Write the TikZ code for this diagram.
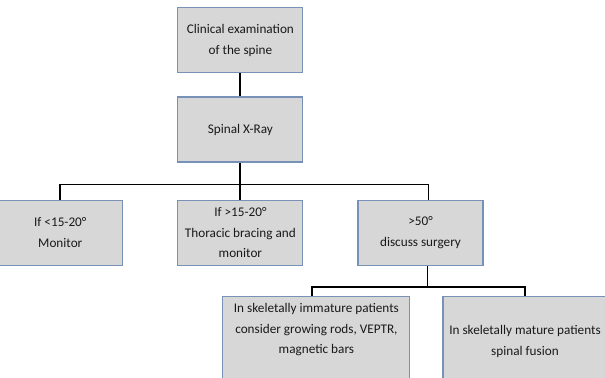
\documentclass[tikz,border=0pt]{standalone}
\usepackage{fontspec}
\setmainfont{Carlito}
\usepackage{tikz}
\usetikzlibrary{positioning}
\definecolor{boxfill}{RGB}{215,215,215}
\definecolor{boxline}{RGB}{120,145,182}

\begin{document}
\begin{tikzpicture}[
    node distance=0.575cm and 1.35cm,
    mybox/.style={rectangle, draw=boxline, line width=0.8pt, fill=boxfill, align=center,
        minimum width=3.125cm, minimum height=1.625cm, inner sep=2pt,
        font=\fontsize{9.4}{14.5}\selectfont, text=black!90},
    link/.style={black, line width=1.3pt}
]
\useasboundingbox (0,0) rectangle (15.125,-9.45);
\clip (0,0) rectangle (15.125,-9.45);

\node[mybox] (clin) at (6.01,-1.01) {Clinical examination\\of the spine};
\node[mybox] (xray) [below=of clin] {Spinal X-Ray};
\node[mybox] (brace) [below=0.925cm of xray] {If >15-20°\\Thoracic bracing and\\monitor};
\node[mybox] (mon) [left=of brace] {If <15-20°\\Monitor};
\node[mybox] (surg) [right=of brace] {>50°\\discuss surgery};
\node[mybox, minimum width=4.675cm, minimum height=2.25cm, anchor=north] (immat) at (7.91,-7.4)
    {In skeletally immature patients\\consider growing rods, VEPTR,\\magnetic bars\\[4pt]\mbox{}};
\node[mybox, minimum width=4.1cm, minimum height=2.25cm, anchor=north] (mature) at (13.125,-7.4)
    {In skeletally mature patients\\spinal fusion};

\draw[link] (clin) -- (xray);
\draw[link] (xray.south) -- ++(0,-0.55) coordinate (bus1);
\draw[link] (mon.north) |- (bus1) -| ([xshift=0.2cm]surg.north);
\draw[link] (bus1) -- (brace.north);
\draw[link] ([xshift=0.175cm]surg.south) -- ++(0,-0.525) coordinate (bus2);
\draw[link] ([xshift=-0.1cm]immat.north) |- (bus2) -| (mature.north);
\end{tikzpicture}
\end{document}
